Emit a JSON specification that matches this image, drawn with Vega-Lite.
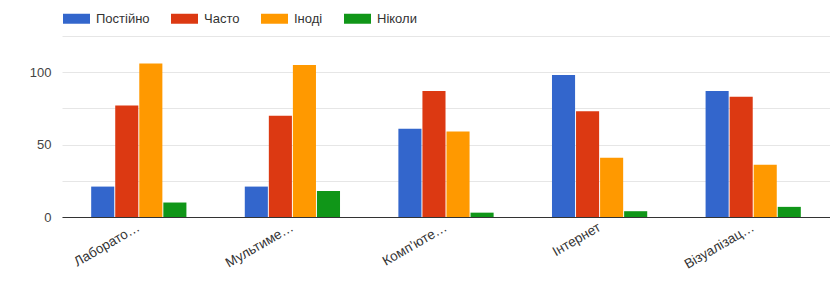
{
  "$schema": "https://vega.github.io/schema/vega-lite/v6.json",
  "autosize": "none",
  "width": 768,
  "height": 181,
  "padding": {"left": 62, "top": 36, "right": 0, "bottom": 77},
  "background": "white",
  "config": {
    "font": "Liberation Sans",
    "view": {"stroke": null}
  },
  "data": {
    "values": [
      {"category": "Лаборато…", "series": "Постійно", "value": 21},
      {"category": "Лаборато…", "series": "Часто", "value": 77},
      {"category": "Лаборато…", "series": "Іноді", "value": 106},
      {"category": "Лаборато…", "series": "Ніколи", "value": 10},
      {"category": "Мультиме…", "series": "Постійно", "value": 21},
      {"category": "Мультиме…", "series": "Часто", "value": 70},
      {"category": "Мультиме…", "series": "Іноді", "value": 105},
      {"category": "Мультиме…", "series": "Ніколи", "value": 18},
      {"category": "Комп’юте…", "series": "Постійно", "value": 61},
      {"category": "Комп’юте…", "series": "Часто", "value": 87},
      {"category": "Комп’юте…", "series": "Іноді", "value": 59},
      {"category": "Комп’юте…", "series": "Ніколи", "value": 3},
      {"category": "Інтернет", "series": "Постійно", "value": 98},
      {"category": "Інтернет", "series": "Часто", "value": 73},
      {"category": "Інтернет", "series": "Іноді", "value": 41},
      {"category": "Інтернет", "series": "Ніколи", "value": 4},
      {"category": "Візуалізац…", "series": "Постійно", "value": 87},
      {"category": "Візуалізац…", "series": "Часто", "value": 83},
      {"category": "Візуалізац…", "series": "Іноді", "value": 36},
      {"category": "Візуалізац…", "series": "Ніколи", "value": 7}
    ]
  },
  "mark": {"type": "bar"},
  "encoding": {
    "x": {
      "field": "category",
      "type": "nominal",
      "sort": null,
      "scale": {"paddingInner": 0.38, "paddingOuter": 0.19},
      "axis": {
        "title": null,
        "labelAngle": -30,
        "labelAlign": "right",
        "labelBaseline": "middle",
        "labelFontSize": 13.5,
        "labelColor": "#333333",
        "labelPadding": 9,
        "labelDx": 5,
        "ticks": false,
        "domainColor": "#333333",
        "domainWidth": 1,
        "grid": false
      }
    },
    "xOffset": {
      "field": "series",
      "type": "nominal",
      "sort": ["Постійно", "Часто", "Іноді", "Ніколи"],
      "scale": {"paddingInner": 0.04, "paddingOuter": 0}
    },
    "y": {
      "field": "value",
      "type": "quantitative",
      "scale": {"domain": [0, 125], "nice": false},
      "axis": {
        "title": null,
        "values": [0, 25, 50, 75, 100, 125],
        "labelExpr": "datum.value % 50 == 0 ? datum.label : ''",
        "labelFontSize": 13,
        "labelColor": "#444444",
        "labelPadding": 11,
        "ticks": false,
        "domain": false,
        "gridColor": "#e6e6e6",
        "gridWidth": 1
      }
    },
    "color": {
      "field": "series",
      "type": "nominal",
      "sort": ["Постійно", "Часто", "Іноді", "Ніколи"],
      "scale": {
        "domain": ["Постійно", "Часто", "Іноді", "Ніколи"],
        "range": ["#3366cc", "#dc3912", "#ff9900", "#109618"]
      },
      "legend": {
        "title": null,
        "orient": "none",
        "direction": "horizontal",
        "legendX": 1,
        "legendY": -31,
        "columns": 4,
        "columnPadding": 21,
        "symbolType": "M-1,-0.37H1V0.37H-1Z",
        "symbolSize": 729,
        "symbolStrokeWidth": 0,
        "symbolOpacity": 1,
        "labelFontSize": 13,
        "labelColor": "#333333",
        "labelOffset": 6
      }
    }
  }
}
